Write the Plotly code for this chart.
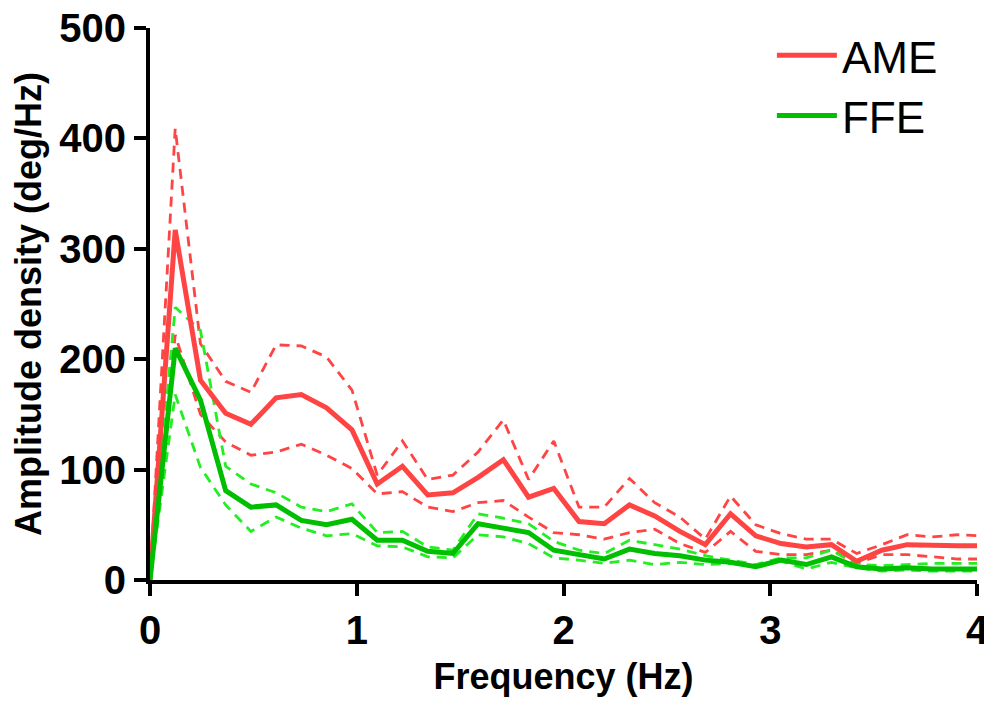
import plotly.graph_objects as go

# frequency bins (Hz), spacing 1/8.192 Hz
freq = [0, 0.122, 0.244, 0.366, 0.488, 0.610, 0.732, 0.854, 0.977, 1.099,
        1.221, 1.343, 1.465, 1.587, 1.709, 1.831, 1.953, 2.075, 2.197, 2.319,
        2.441, 2.563, 2.686, 2.808, 2.930, 3.052, 3.174, 3.296, 3.418, 3.540,
        3.662, 3.784, 3.906, 4.028]

ame_mean = [0, 317, 181, 151, 141, 165, 168, 156, 136, 87,
            103, 77, 79, 93, 109, 75, 83, 53, 51, 68,
            58, 44, 32, 60, 40, 33, 30, 32, 17, 27,
            32, 31, 31, 31]
ame_upper = [0, 409, 214, 180, 170, 213, 212, 202, 172, 95,
             126, 91, 95, 116, 145, 91, 126, 66, 66, 92,
             70, 57, 37, 76, 50, 42, 37, 37, 24, 32,
             41, 39, 41, 40]
ame_lower = [0, 222, 150, 125, 113, 116, 123, 113, 101, 78,
             80, 66, 62, 70, 72, 57, 43, 41, 37, 43,
             46, 33, 25, 44, 26, 23, 23, 27, 15, 23,
             23, 21, 19, 19]

ffe_mean = [0, 210, 163, 81, 66, 68, 54, 50, 55, 36,
            36, 26, 24, 51, 47, 43, 27, 23, 19, 28,
            24, 22, 18, 16, 12, 18, 14, 21, 12, 10,
            11, 10, 10, 10]
ffe_upper = [0, 247, 226, 103, 87, 79, 66, 62, 69, 43,
             44, 30, 27, 60, 56, 51, 35, 27, 24, 36,
             32, 28, 22, 18, 14, 20, 20, 27, 14, 13,
             14, 15, 15, 15]
ffe_lower = [0, 168, 102, 68, 44, 57, 47, 40, 42, 31,
             30, 21, 20, 41, 39, 33, 20, 18, 15, 18,
             14, 16, 14, 15, 12, 17, 10, 16, 11, 8,
             9, 8, 8, 8]

RED = "#FF4444"
GREEN = "#00BE00"
LIME = "#22EE22"
FONT = "Liberation Sans, Arial, sans-serif"

fig = go.Figure()

# confidence bands (dashed) first, mean lines on top
for ys, col in [(ame_upper, RED), (ame_lower, RED), (ffe_upper, LIME), (ffe_lower, LIME)]:
    fig.add_trace(go.Scatter(
        x=freq, y=ys, mode="lines", showlegend=False, hoverinfo="skip",
        line=dict(color=col, width=2.8, dash="10px,7px"),
    ))

fig.add_trace(go.Scatter(x=freq, y=ame_mean, mode="lines", name="AME",
                         line=dict(color=RED, width=5)))
fig.add_trace(go.Scatter(x=freq, y=ffe_mean, mode="lines", name="FFE",
                         line=dict(color=GREEN, width=5)))

# page body has an 8px margin, so the figure is a bit smaller than the window
fig.update_layout(
    width=984,
    height=689,
    paper_bgcolor="white",
    plot_bgcolor="white",
    margin=dict(l=142, r=15, t=20, b=117),
    font=dict(family=FONT, color="black"),
    legend=dict(
        x=0.752, y=1.014, xanchor="left", yanchor="top",
        font=dict(size=44, color="black"),
        bgcolor="rgba(0,0,0,0)",
        itemwidth=60,
        tracegroupgap=0,
    ),
    showlegend=True,
)

fig.update_xaxes(
    range=[0, 4],
    tickvals=[0, 1, 2, 3, 4],
    automargin=False,
    ticklabeloverflow="allow",
    showgrid=False, zeroline=False,
    showline=True, linecolor="black", linewidth=4,
    ticks="outside", ticklen=12, tickwidth=4, tickcolor="black",
    tickfont=dict(size=40, color="black", weight="bold"),
    title=dict(text="<b>Frequency (Hz)</b>", standoff=22,
               font=dict(size=36, color="black")),
)
fig.update_yaxes(
    range=[0, 500],
    tickvals=[0, 100, 200, 300, 400, 500],
    automargin=False,
    ticklabeloverflow="allow",
    showgrid=False, zeroline=False,
    showline=True, linecolor="black", linewidth=4,
    ticks="outside", ticklen=12, tickwidth=4, tickcolor="black",
    tickfont=dict(size=40, color="black", weight="bold"),
    title=dict(text="<b>Amplitude density (deg/Hz)</b>",
               font=dict(size=36, color="black")),
)

fig.write_html("out.html")
